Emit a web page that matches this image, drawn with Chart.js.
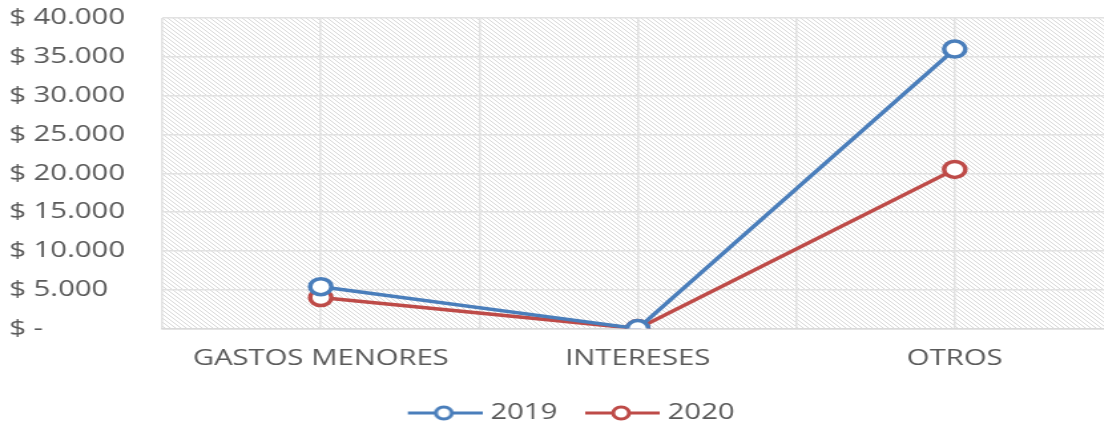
<!DOCTYPE html>
<html>
<head>
<meta charset="utf-8">
<script src="https://cdn.jsdelivr.net/npm/chart.js@4/dist/chart.umd.min.js"></script>
<style>
  html, body { margin: 0; padding: 0; background: #fff; overflow: hidden; }
  /* la imagen original viene estirada en horizontal */
  #wrap { width: 861px; height: 424px; transform: scaleX(1.33); transform-origin: 0 0; }
</style>
</head>
<body>
<div id="wrap"><canvas id="grafico"></canvas></div>
<script>
// categorias y valores
const categorias = ['GASTOS MENORES', 'INTERESES', 'OTROS'];
const valores2019 = [5400, 0, 36000];
const valores2020 = [4000, 0, 20500];
const ticksY = [0, 5000, 10000, 15000, 20000, 25000, 30000, 35000, 40000];

const azul = '#4a7ebb';
const rojo = '#be4b48';

// icono de la leyenda: linea con circulo (con margen transparente a la izquierda)
function iconoLeyenda(color) {
  const c = document.createElement('canvas');
  c.width = 66; c.height = 20;
  const ctx = c.getContext('2d');
  ctx.strokeStyle = color;
  ctx.lineWidth = 3;
  ctx.beginPath();
  ctx.moveTo(10, 10); ctx.lineTo(66, 10);
  ctx.stroke();
  ctx.beginPath();
  ctx.arc(37, 10, 6, 0, Math.PI * 2);
  ctx.fillStyle = '#fff';
  ctx.fill();
  ctx.stroke();
  return c;
}

// fondo rayado del area de trazado
function patronRayado() {
  const n = 4;
  const c = document.createElement('canvas');
  c.width = n; c.height = n;
  const ctx = c.getContext('2d');
  ctx.fillStyle = '#fff';
  ctx.fillRect(0, 0, n, n);
  ctx.strokeStyle = '#d9d9d9';
  ctx.lineWidth = 1;
  ctx.beginPath();
  ctx.moveTo(-1, -1); ctx.lineTo(n + 1, n + 1);
  ctx.moveTo(-1, n - 1); ctx.lineTo(1, n + 1);
  ctx.moveTo(n - 1, -1); ctx.lineTo(n + 1, 1);
  ctx.stroke();
  return c;
}

const fondoRayado = {
  id: 'fondoRayado',
  beforeDraw(chart) {
    const { ctx, chartArea } = chart;
    ctx.save();
    ctx.fillStyle = ctx.createPattern(patronRayado(), 'repeat');
    ctx.fillRect(chartArea.left, chartArea.top, chartArea.right - chartArea.left, chartArea.bottom - chartArea.top);
    ctx.restore();
  }
};

// corre un poco la leyenda a la derecha
const moverLeyenda = {
  id: 'moverLeyenda',
  afterLayout(chart) {
    if (chart.legend) {
      chart.legend.left += 5;
      chart.legend.right += 5;
    }
  }
};

function formatoPesos(v) {
  if (v === 0) return '$ -';
  return '$ ' + v.toLocaleString('de-DE');
}

const fuente = { family: 'Open Sans', size: 22 };

function serie(label, valores, color) {
  return {
    label: label,
    data: valores.map((v, i) => ({ x: i, y: v })),
    borderColor: color,
    backgroundColor: '#fff',
    borderWidth: 3.5,
    pointRadius: 8,
    pointHoverRadius: 8,
    pointBorderWidth: 3.5,
    pointBackgroundColor: '#fff',
    fill: false,
    tension: 0
  };
}

new Chart(document.getElementById('grafico').getContext('2d'), {
  type: 'line',
  data: {
    datasets: [
      serie('2019', valores2019, azul),
      serie('2020', valores2020, rojo)
    ]
  },
  options: {
    responsive: true,
    maintainAspectRatio: false,
    animation: false,
    layout: { padding: { left: 7, top: 18, right: 24, bottom: -10 } },
    scales: {
      x: {
        type: 'linear',
        min: -0.5,
        max: 2.5,
        afterFit: s => { s.height -= 3; },
        ticks: {
          stepSize: 0.5,
          color: '#595959',
          font: fuente,
          padding: 17,
          maxRotation: 0,
          autoSkip: false,
          callback: v => Number.isInteger(v) ? categorias[v] : ''
        },
        grid: { color: '#e2e2e2', lineWidth: 1.5, drawTicks: false },
        border: { color: '#d9d9d9', width: 1.5 }
      },
      y: {
        min: 0,
        max: 40000,
        afterBuildTicks: s => { s.ticks = ticksY.map(v => ({ value: v })); },
        afterFit: s => { s.width = 115; },
        ticks: {
          color: '#595959',
          font: fuente,
          crossAlign: 'far',
          callback: v => formatoPesos(v)
        },
        grid: { color: '#e2e2e2', lineWidth: 1.5, drawTicks: false },
        border: { display: false }
      }
    },
    plugins: {
      tooltip: { enabled: false },
      legend: {
        position: 'bottom',
        labels: {
          color: '#595959',
          font: fuente,
          usePointStyle: true,
          pointStyleWidth: 56,
          padding: 16,
          generateLabels: chart => chart.data.datasets.map((d, i) => ({
            text: d.label,
            pointStyle: iconoLeyenda(d.borderColor),
            fillStyle: '#fff',
            strokeStyle: d.borderColor,
            lineWidth: 0,
            fontColor: '#595959',
            datasetIndex: i
          }))
        }
      }
    }
  },
  plugins: [fondoRayado, moverLeyenda]
});
</script>
</body>
</html>
